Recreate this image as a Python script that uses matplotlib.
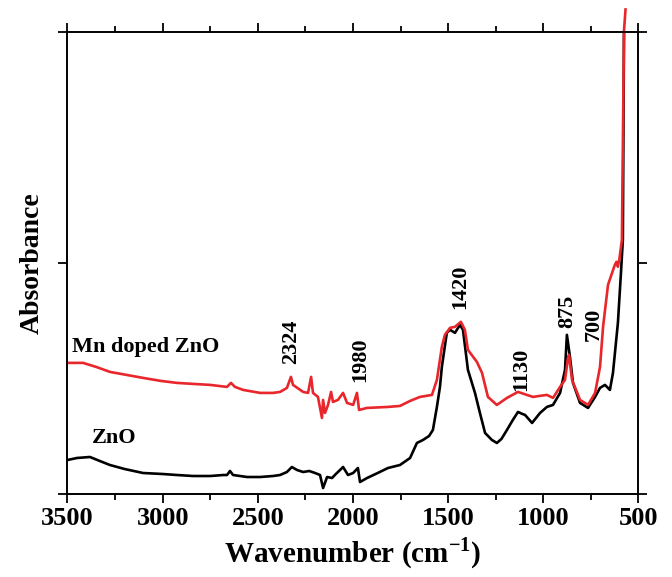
import matplotlib.pyplot as plt
from matplotlib.ticker import MultipleLocator

# FTIR spectra, absorbance in arbitrary units
zno_wn = [3500, 3450, 3382, 3330, 3277, 3200, 3103, 3000, 2925, 2840, 2750, 2680,
          2662, 2646, 2630, 2556, 2488, 2420, 2383, 2347, 2321, 2294, 2262, 2230,
          2199, 2173, 2157, 2136, 2110, 2090, 2068, 2052, 2026, 1999, 1974, 1963,
          1926, 1870, 1816, 1753, 1700, 1664, 1632, 1600, 1580, 1559, 1543, 1533,
          1507, 1490, 1464, 1438, 1422, 1396, 1359, 1333, 1306, 1270, 1244, 1220,
          1191, 1160, 1133, 1110, 1096, 1059, 1017, 981, 949, 912, 886, 876,
          860, 844, 807, 765, 728, 702, 676, 650, 634, 608, 592, 582, 576]
zno_abs = [34, 36, 37, 33, 29, 25, 21, 20, 19, 18, 18, 19,
           19, 23, 19, 17, 17, 18, 19, 22, 27, 24, 22, 23,
           21, 19, 6, 17, 16, 20, 24, 27, 19, 21, 26, 12,
           16, 21, 26, 29, 36, 51, 54, 58, 64, 87, 107, 127,
           161, 164, 161, 169, 164, 124, 101, 81, 61, 54, 51, 55,
           64, 74, 82, 80, 79, 71, 81, 87, 89, 101, 124, 159,
           137, 111, 91, 86, 97, 106, 109, 104, 121, 171, 221, 254, 462]

mn_wn = [3500, 3418, 3350, 3277, 3190, 3103, 3010, 2925, 2840, 2750, 2662, 2641,
         2620, 2577, 2488, 2420, 2383, 2347, 2326, 2315, 2262, 2236, 2220, 2210,
         2184, 2163, 2157, 2147, 2131, 2115, 2105, 2079, 2052, 2031, 1999, 1979,
         1968, 1926, 1816, 1753, 1700, 1648, 1585, 1559, 1533, 1517, 1490, 1464,
         1433, 1412, 1396, 1349, 1322, 1291, 1244, 1191, 1133, 1086, 1054, 1020,
         981, 949, 912, 886, 870, 865, 849, 807, 765, 728, 702, 686, 660, 624,
         615, 608, 600, 587, 576, 568]
mn_abs = [131, 131, 127, 122, 119, 116, 113, 111, 110, 109, 107, 111,
          107, 104, 101, 101, 102, 106, 117, 109, 102, 101, 117, 101,
          97, 76, 94, 81, 89, 102, 92, 94, 101, 91, 89, 101,
          84, 86, 87, 88, 93, 97, 99, 114, 147, 159, 166, 167,
          172, 164, 144, 132, 121, 97, 89, 96, 102, 99, 97, 98,
          99, 96, 107, 114, 136, 139, 114, 94, 89, 101, 127, 167, 209, 229,
          232, 227, 235, 254, 463, 484]

peak_pos = [2326, 1963, 1438, 1117, 876, 734]
peak_labels = ['2324', '1980', '1420', '1130', '875', '700']
peak_y = [152, 134, 207, 125, 182, 169]

plt.rcParams['font.family'] = ['Liberation Serif', 'DejaVu Serif']
plt.rcParams['font.weight'] = 'bold'
plt.rcParams['mathtext.fontset'] = 'custom'
plt.rcParams['mathtext.rm'] = 'Liberation Serif:bold'
plt.rcParams['mathtext.bf'] = 'Liberation Serif:bold'

fig = plt.figure(figsize=(6.72, 5.77), dpi=100)
ax = fig.add_axes([0.1004, 0.1438, 0.8497, 0.8016])

ax.plot(zno_wn, zno_abs, color='black', lw=1.9)
ax.plot(mn_wn, mn_abs, color='#e8262b', lw=1.9, clip_on=False)

ax.set_xlim(3500, 500)
ax.set_ylim(0, 462)
ax.xaxis.set_major_locator(MultipleLocator(500))
ax.xaxis.set_minor_locator(MultipleLocator(250))
ax.set_yticks([0, 231, 462])
ax.set_yticklabels([])
ax.tick_params(axis='both', which='both', direction='out', top=True, right=True,
               width=1.3, length=6.5)
ax.tick_params(axis='x', which='minor', length=4)
ax.tick_params(axis='x', labelsize=19, pad=3)
for lab in ax.get_xticklabels():
    lab.set_fontweight('bold')
for sp in ax.spines.values():
    sp.set_linewidth(1.4)

ax.set_xlabel(r'Wavenumber (cm$^{-1}$)', fontsize=21, fontweight='bold', labelpad=4)
ax.set_ylabel('Absorbance', fontsize=20, fontweight='bold', labelpad=6)

ax.text(3476, 147, 'Mn doped ZnO', fontsize=16, fontweight='bold', ha='left', va='center')
ax.text(3371, 56, 'ZnO', fontsize=16, fontweight='bold', ha='left', va='center')
for x, lab, y in zip(peak_pos, peak_labels, peak_y):
    ax.text(x, y, lab, fontsize=16, fontweight='bold', rotation=90,
            ha='center', va='center')

fig.savefig('out.png', dpi=100)
